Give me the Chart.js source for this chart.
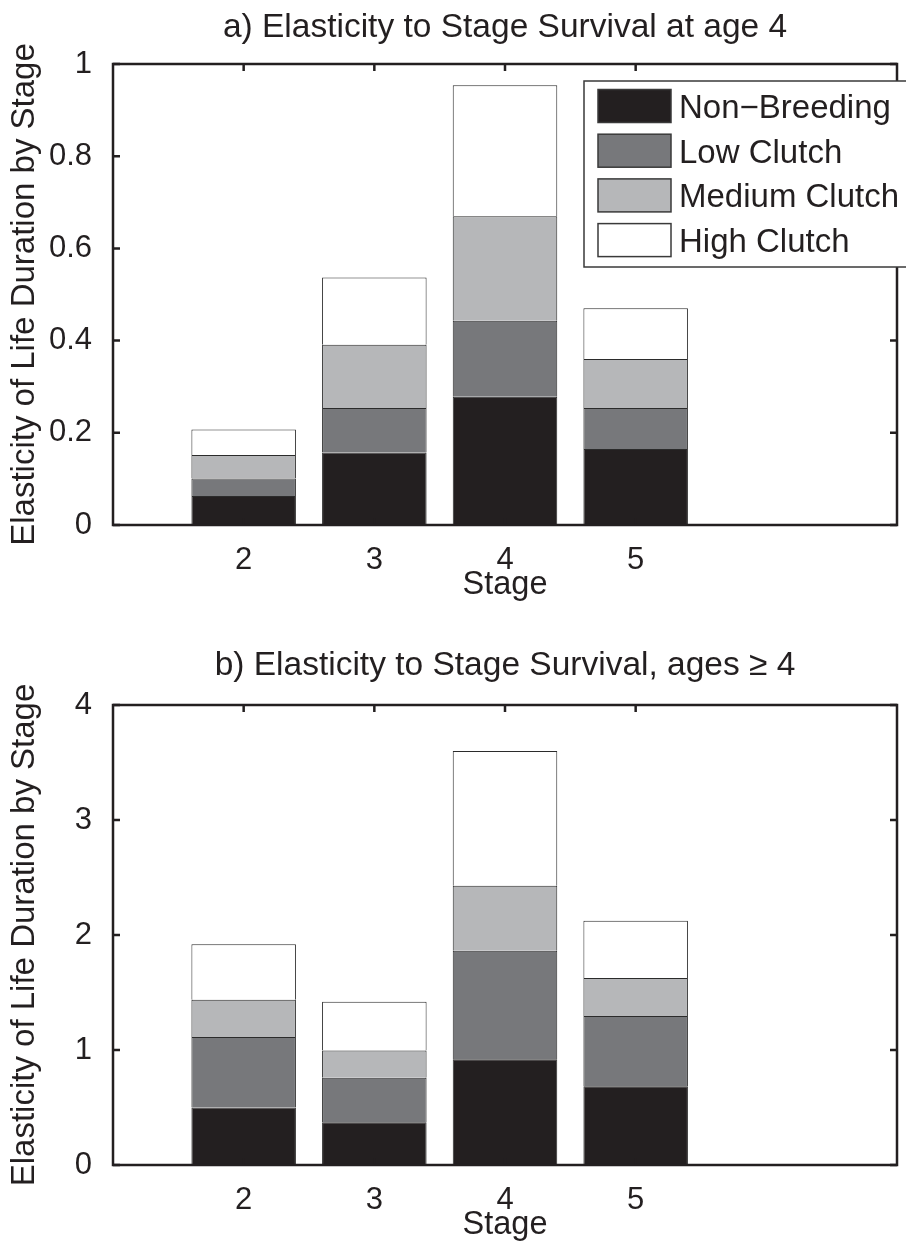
<!DOCTYPE html>
<html>
<head>
<meta charset="utf-8">
<script src="https://cdn.jsdelivr.net/npm/chart.js@4.4.0/dist/chart.umd.min.js"></script>
<style>
  html, body { margin: 0; padding: 0; background: #ffffff; }
  #wrap { position: relative; width: 906px; height: 1247px; overflow: hidden; background: #fff; }
  #c1 { position: absolute; left: 0; top: 0; }
  #c2 { position: absolute; left: 0; top: 625px; }
</style>
</head>
<body>
<div id="wrap">
  <canvas id="c1" width="906" height="625"></canvas>
  <canvas id="c2" width="906" height="622"></canvas>
</div>
<script>
// ---------- data ----------
const stages = [2, 3, 4, 5];
const xTickValues = [2, 3, 4, 5];
const xMin = 1, xMax = 7;
const seriesNames = ['Non\u2212Breeding', 'Low Clutch', 'Medium Clutch', 'High Clutch'];
const seriesColors = ['#231f20', '#77787b', '#b6b7b9', '#ffffff'];

// panel a) elasticity to stage survival at age 4 (segment heights)
const nonBreedingA  = [0.063, 0.157, 0.278, 0.165];
const lowClutchA    = [0.038, 0.097, 0.165, 0.089];
const mediumClutchA = [0.051, 0.137, 0.227, 0.106];
const highClutchA   = [0.055, 0.146, 0.284, 0.110];
const yTicksA       = [0, 0.2, 0.4, 0.6, 0.8, 1];
const yTickLabelsA  = ['0', '0.2', '0.4', '0.6', '0.8', '1'];

// panel b) elasticity to stage survival, ages >= 4 (segment heights)
const nonBreedingB  = [0.500, 0.372, 0.919, 0.685];
const lowClutchB    = [0.613, 0.386, 0.945, 0.611];
const mediumClutchB = [0.325, 0.237, 0.564, 0.330];
const highClutchB   = [0.481, 0.425, 1.173, 0.498];
const yTicksB       = [0, 1, 2, 3, 4];
const yTickLabelsB  = ['0', '1', '2', '3', '4'];

const titleA = 'a) Elasticity to Stage Survival at age 4';
const titleB = 'b) Elasticity to Stage Survival, ages \u2265 4';
const xLabel = 'Stage';
const yLabel = 'Elasticity of Life Duration by Stage';

// ---------- style ----------
const FONT = '"Liberation Sans", Arial, Helvetica, sans-serif';
const INK = '#231f20';

const axesBox = {
  id: 'axesBox',
  afterDatasetsDraw(chart) {
    const { ctx, chartArea: a, scales } = chart;
    const x = scales.x, y = scales.y;
    const tl = 7;
    ctx.save();
    ctx.strokeStyle = INK;
    ctx.lineWidth = 2.5;
    ctx.beginPath();
    y.ticks.forEach(t => {
      const py = y.getPixelForValue(t.value);
      ctx.moveTo(a.left, py); ctx.lineTo(a.left + tl, py);
      ctx.moveTo(a.right, py); ctx.lineTo(a.right - tl, py);
    });
    x.ticks.forEach(t => {
      const px = x.getPixelForValue(t.value);
      ctx.moveTo(px, a.top); ctx.lineTo(px, a.top + tl);
      ctx.moveTo(px, a.bottom); ctx.lineTo(px, a.bottom - tl);
    });
    ctx.stroke();
    ctx.strokeRect(a.left, a.top, a.right - a.left, a.bottom - a.top);
    ctx.restore();
  }
};

const boxLegend = {
  id: 'boxLegend',
  afterDraw(chart, args, o) {
    if (!o || !o.show) return;
    const ctx = chart.ctx;
    ctx.save();
    ctx.fillStyle = '#ffffff';
    ctx.fillRect(o.x, o.y, o.w, o.h);
    ctx.strokeStyle = '#3a3a3a';
    ctx.lineWidth = 1.5;
    ctx.strokeRect(o.x, o.y, o.w, o.h);
    ctx.font = o.fontSize + 'px ' + FONT;
    ctx.textBaseline = 'middle';
    ctx.textAlign = 'left';
    chart.data.datasets.forEach((ds, i) => {
      const top = o.y + o.firstTop + i * o.pitch;
      ctx.fillStyle = ds.backgroundColor;
      ctx.fillRect(o.x + o.swX, top, o.swW, o.swH);
      ctx.strokeStyle = '#3a3a3a';
      ctx.lineWidth = 1.5;
      ctx.strokeRect(o.x + o.swX, top, o.swW, o.swH);
      ctx.fillStyle = INK;
      ctx.fillText(ds.label, o.x + o.textX, top + o.swH / 2 + o.textDy);
    });
    ctx.restore();
  }
};

function makeDatasets(series) {
  return series.map((vals, i) => ({
    label: seriesNames[i],
    data: stages.map((s, j) => ({ x: s, y: vals[j] })),
    backgroundColor: seriesColors[i],
    borderColor: '#2b2b2b',
    borderWidth: 1,
    borderSkipped: 'start',
    categoryPercentage: 1.0,
    barPercentage: 0.8
  }));
}

function makeChart(canvasId, p) {
  return new Chart(document.getElementById(canvasId), {
    type: 'bar',
    data: { datasets: makeDatasets(p.series) },
    options: {
      responsive: false,
      animation: false,
      devicePixelRatio: 1,
      layout: { padding: { left: 0, right: 9, top: 0, bottom: 0 } },
      plugins: {
        legend: { display: false },
        tooltip: { enabled: false },
        title: {
          display: true,
          fullSize: false,
          text: p.title,
          color: INK,
          font: { family: FONT, size: 33.5, weight: 'normal', lineHeight: 1.2 },
          padding: p.titlePad
        },
        boxLegend: p.legend
      },
      scales: {
        x: {
          type: 'linear',
          min: xMin, max: xMax,
          stacked: true,
          offset: false,
          grid: { display: false },
          border: { display: false },
          afterBuildTicks: s => { s.ticks = xTickValues.map(v => ({ value: v })); },
          afterFit: s => { s.height = p.xAxisH; },
          ticks: {
            color: INK,
            font: { family: FONT, size: 31, lineHeight: 1.2 },
            padding: p.xTickPad,
            maxRotation: 0,
            autoSkip: false,
            callback: v => String(v)
          },
          title: {
            display: true,
            text: xLabel,
            color: INK,
            font: { family: FONT, size: 32.5, lineHeight: 1.2 },
            padding: { top: 0, bottom: p.xTitlePadBottom }
          }
        },
        y: {
          type: 'linear',
          min: p.yTicks[0], max: p.yTicks[p.yTicks.length - 1],
          stacked: true,
          grid: { display: false },
          border: { display: false },
          afterBuildTicks: s => { s.ticks = p.yTicks.map(v => ({ value: v })); },
          afterFit: s => { s.width = 113; },
          ticks: {
            color: INK,
            font: { family: FONT, size: 31, lineHeight: 1.2 },
            padding: 13,
            autoSkip: false,
            callback: (v, i) => p.yLabels[i]
          },
          title: {
            display: true,
            text: yLabel,
            color: INK,
            font: { family: FONT, size: 33, lineHeight: 1.2 },
            padding: { top: 5, bottom: 0 }
          }
        }
      }
    },
    plugins: [axesBox, boxLegend]
  });
}

makeChart('c1', {
  series: [nonBreedingA, lowClutchA, mediumClutchA, highClutchA],
  title: titleA,
  titlePad: { top: 7.5, bottom: 16.3 },
  yTicks: yTicksA, yLabels: yTickLabelsA,
  xAxisH: 100, xTickPad: 9, xTitlePadBottom: 20,
  legend: { show: true, x: 584, y: 81, w: 340, h: 186, firstTop: 8.5, pitch: 44.7,
            swX: 14, swW: 73, swH: 33, textX: 95, textDy: 3, fontSize: 33 }
});

makeChart('c2', {
  series: [nonBreedingB, lowClutchB, mediumClutchB, highClutchB],
  title: titleB,
  titlePad: { top: 20.8, bottom: 19 },
  yTicks: yTicksB, yLabels: yTickLabelsB,
  xAxisH: 82, xTickPad: 8.5, xTitlePadBottom: 2,
  legend: { show: false }
});
</script>
</body>
</html>
